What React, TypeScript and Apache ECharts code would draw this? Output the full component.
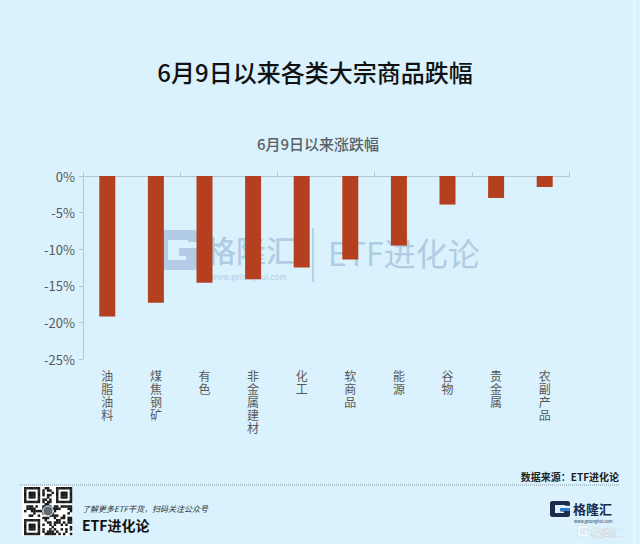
import React, { useEffect, useRef } from "react";
import * as echarts from "echarts";

const categories = ["油脂油料", "煤焦钢矿", "有色", "非金属建材", "化工", "软商品", "能源", "谷物", "贵金属", "农副产品"];
const changes = [-19.2, -17.3, -14.6, -14.1, -12.5, -11.4, -9.5, -3.9, -3.0, -1.5];
const yTicks = { min: -25, max: 0, interval: 5 };

const mainTitle = "6月9日以来各类大宗商品跌幅";
const chartTitle = "6月9日以来涨跌幅";
const sourceText = "数据来源：ETF进化论";
const footNote = "了解更多ETF干货，扫码关注公众号";
const footName = "ETF进化论";

const FONT = "'Noto Sans CJK SC', 'Noto Sans', sans-serif";

const G_PATH =
  "M5,0 H35 Q40,0 40,5 V12 H30 V10 H10 V30 H28 L28,26 H21 V18 H40 V35 Q40,40 35,40 H5 Q0,40 0,35 V5 Q0,0 5,0 Z";

let registered = false;
function registerShapes() {
  if (registered) return;
  registered = true;
  echarts.graphic.registerShape("glogo", echarts.graphic.extendPath(G_PATH as any, {}) as any);
}

function qrCells(): any[] {
  const cells: any[] = [];
  const n = 21;
  const s = 48 / n;
  const x0 = 24;
  const y0 = 487;
  const inFinder = (r: number, c: number) =>
    (r < 8 && c < 8) || (r < 8 && c >= n - 8) || (r >= n - 8 && c < 8);
  for (let r = 0; r < n; r++) {
    for (let c = 0; c < n; c++) {
      let on = false;
      if (inFinder(r, c)) {
        const rr = r >= n - 8 ? r - (n - 7) : r;
        const cc = c >= n - 8 ? c - (n - 7) : c;
        if (rr < 0 || cc < 0 || rr > 6 || cc > 6) on = false;
        else if (rr === 0 || rr === 6 || cc === 0 || cc === 6) on = true;
        else if (rr >= 2 && rr <= 4 && cc >= 2 && cc <= 4) on = true;
      } else {
        const h = ((r * 31 + c * 17 + r * c * 7) ^ (r * 5 + c * 11)) % 5;
        on = h < 2;
      }
      if (on) {
        cells.push({
          type: "rect",
          shape: { x: x0 + c * s, y: y0 + r * s, width: s + 0.2, height: s + 0.2 },
          style: { fill: "#1a1a1a" },
          silent: true,
        });
      }
    }
  }
  return cells;
}

export default function App() {
  const ref = useRef<HTMLDivElement>(null);

  useEffect(() => {
    if (!ref.current) return;
    registerShapes();
    const chart = echarts.init(ref.current, null, { renderer: "svg" });
    const wm = "#a9c5df";
    const option: any = {
      animation: false,
      backgroundColor: "#d9f2fd",
      textStyle: { fontFamily: FONT },
      grid: { left: 83, right: 71, top: 176, bottom: 185, containLabel: false },
      xAxis: [
        {
          type: "category",
          data: categories,
          position: "top",
          axisLine: { show: true, lineStyle: { color: "#b4c6d3", width: 1 } },
          axisTick: { show: true, length: 4, lineStyle: { color: "#b4c6d3" } },
          axisLabel: { show: false },
          splitLine: { show: false },
        },
        {
          type: "category",
          data: categories,
          position: "bottom",
          axisLine: { show: false, onZero: false },
          axisTick: { show: false },
          axisLabel: {
            show: true,
            margin: 10,
            color: "#595959",
            fontSize: 12,
            lineHeight: 13,
            fontFamily: FONT,
            verticalAlign: "top",
            formatter: (v: string) => v.split("").join("\n"),
          },
          splitLine: { show: false },
        },
      ],
      yAxis: {
        type: "value",
        min: yTicks.min,
        max: yTicks.max,
        interval: yTicks.interval,
        axisLine: { show: true, lineStyle: { color: "#b4c6d3" } },
        axisTick: { show: true, length: 4, lineStyle: { color: "#b4c6d3" } },
        axisLabel: {
          formatter: "{value}%",
          color: "#595959",
          fontSize: 13,
          margin: 8,
          fontFamily: FONT,
        },
        splitLine: { show: false },
      },
      series: [
        {
          type: "bar",
          xAxisIndex: 0,
          data: changes,
          barWidth: 16,
          itemStyle: { color: "#b5401f" },
          z: 3,
        },
      ],
      graphic: [
        // watermark
        {
          type: "group",
          z: -10,
          silent: true,
          children: [
            {
              type: "glogo",
              x: 158,
              y: 230,
              scaleX: 1,
              scaleY: 1,
              style: { fill: wm, opacity: 0.85 },
            },
            {
              type: "text",
              x: 206,
              y: 249,
              style: {
                text: "格隆汇",
                fill: wm,
                opacity: 0.85,
                font: `500 30px ${FONT}`,
                textVerticalAlign: "middle",
              },
            },
            {
              type: "text",
              x: 210,
              y: 276,
              style: {
                text: "www.gelonghui.com",
                fill: wm,
                opacity: 0.85,
                font: `8px ${FONT}`,
                textVerticalAlign: "middle",
              },
            },
            {
              type: "rect",
              shape: { x: 312, y: 228, width: 2, height: 54 },
              style: { fill: wm, opacity: 0.7 },
            },
            {
              type: "text",
              x: 328,
              y: 252,
              style: {
                text: "ETF进化论",
                fill: wm,
                opacity: 0.85,
                font: `32px ${FONT}`,
                textVerticalAlign: "middle",
              },
            },
          ],
        },
        {
          type: "text",
          x: 315,
          y: 71,
          style: {
            text: mainTitle,
            fill: "#111111",
            font: `500 24px ${FONT}`,
            textAlign: "center",
            textVerticalAlign: "middle",
          },
        },
        {
          type: "text",
          x: 318,
          y: 143,
          style: {
            text: chartTitle,
            fill: "#5a5f66",
            font: `500 15px ${FONT}`,
            textAlign: "center",
            textVerticalAlign: "middle",
          },
        },
        {
          type: "text",
          x: 619,
          y: 476,
          style: {
            text: sourceText,
            fill: "#222222",
            font: `bold 10px ${FONT}`,
            textAlign: "right",
            textVerticalAlign: "middle",
          },
        },
        {
          type: "line",
          shape: { x1: 20, y1: 485, x2: 620, y2: 485 },
          style: { stroke: "#8a9aa6", lineWidth: 1, lineDash: [1, 1] },
        },
        // QR code
        {
          type: "rect",
          shape: { x: 22, y: 486, width: 50, height: 50 },
          style: { fill: "#ffffff" },
        },
        {
          type: "group",
          children: qrCells(),
        },
        {
          type: "circle",
          shape: { cx: 48, cy: 511, r: 5 },
          style: { fill: "#5b6b78", stroke: "#ffffff", lineWidth: 1 },
        },
        {
          type: "text",
          x: 82,
          y: 508,
          style: {
            text: footNote,
            fill: "#333333",
            font: `italic 8px ${FONT}`,
            textVerticalAlign: "middle",
          },
        },
        {
          type: "text",
          x: 82,
          y: 525,
          style: {
            text: footName,
            fill: "#111111",
            font: `bold 14px ${FONT}`,
            textVerticalAlign: "middle",
          },
        },
        // bottom-right logo
        {
          type: "glogo",
          x: 550,
          y: 501,
          scaleX: 0.5,
          scaleY: 0.4,
          style: { fill: "#1c2b4c" },
        },
        {
          type: "rect",
          shape: { x: 560, y: 508, width: 10, height: 3 },
          style: { fill: "#2f7fd1" },
        },
        {
          type: "text",
          x: 573,
          y: 508,
          style: {
            text: "格隆汇",
            fill: "#1c2b4c",
            font: `bold 13px ${FONT}`,
            textVerticalAlign: "middle",
          },
        },
        {
          type: "text",
          x: 574,
          y: 520.5,
          style: {
            text: "www.gelonghui.com",
            fill: "#1c2b4c",
            font: `4px ${FONT}`,
            textVerticalAlign: "middle",
          },
        },
        {
          type: "glogo",
          x: 578,
          y: 526,
          scaleX: 0.26,
          scaleY: 0.26,
          style: { fill: "#f2f8fb", stroke: "#b9c3c9", lineWidth: 1 },
        },
        {
          type: "text",
          x: 591,
          y: 532,
          style: {
            text: "格隆汇",
            fill: "#f2f8fb",
            stroke: "#b9c3c9",
            lineWidth: 0.6,
            font: `10px ${FONT}`,
            textVerticalAlign: "middle",
          },
        },
        {
          type: "rect",
          shape: { x: 633, y: 0, width: 2, height: 544 },
          style: { fill: "#e6f6fd" },
        },
      ],
    };
    chart.setOption(option);
    return () => chart.dispose();
  }, []);

  return (
    <div
      ref={ref}
      style={{ position: "absolute", left: 0, top: 0, width: 640, height: 544 }}
    />
  );
}
